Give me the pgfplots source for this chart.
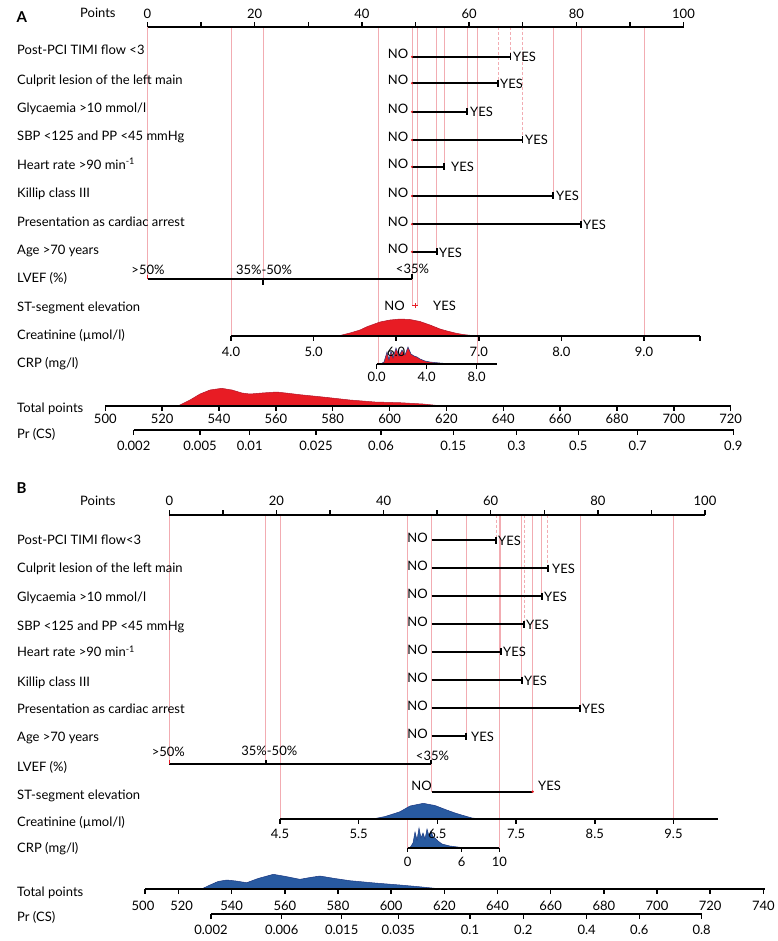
\documentclass[border=0pt]{standalone}
\usepackage{pgfplots}
\pgfplotsset{compat=1.18}
\usepackage{fontspec}
\setmainfont{Lato}
\definecolor{nred}{RGB}{232,28,36}
\definecolor{nredd}{RGB}{180,20,40}
\definecolor{nblue}{RGB}{40,90,160}
\definecolor{nblued}{RGB}{25,55,130}
\definecolor{npink}{RGB}{242,172,178}
\newcommand{\tc}[3]{\node[anchor=base,inner sep=0pt] at (axis cs:#1,#2) {#3};}
\newcommand{\tw}[3]{\node[anchor=base west,inner sep=0pt] at (axis cs:#1,#2) {#3};}
\newcommand{\te}[3]{\node[anchor=base east,inner sep=0pt] at (axis cs:#1,#2) {#3};}
\newcommand{\pv}[3]{\addplot[npink,line width=0.7pt] coordinates {(#1,#2)(#1,#3)};}
\newcommand{\pvd}[3]{\addplot[npink,line width=0.7pt,dash pattern=on 3pt off 2pt] coordinates {(#1,#2)(#1,#3)};}
\newcommand{\hl}[3]{\addplot[black,line width=1.8pt] coordinates {(#1,#3)(#2,#3)};}
\newcommand{\vt}[3]{\addplot[black,line width=1.6pt] coordinates {(#1,#2)(#1,#3)};}
\begin{document}
\fontsize{13}{15}\selectfont
\begin{tikzpicture}
\begin{axis}[x=1pt,y=1pt,y dir=reverse,xmin=0,xmax=777,ymin=0,ymax=941,
  hide axis,clip=false,scale only axis,unbounded coords=jump]
\addplot[draw=none] coordinates {(0,0)(777,941)};
% ================= PANEL A =================
\pv{147.5}{27}{279.3}\pv{231}{27}{336}\pv{263}{27}{279.3}\pv{378}{27}{364.3}
\pv{412}{27}{305.7}\pv{417}{27}{305.7}\pv{436.7}{27}{251.7}\pv{444}{27}{166.7}
\pv{467}{27}{111.7}\pv{477.5}{27}{364.3}\pvd{498}{27}{83.3}\pvd{510.5}{27}{56.7}
\pvd{522.5}{27}{140}\pv{553}{27}{196}\pv{581}{27}{224.3}\pv{644}{27}{336}
% densities A
\addplot[fill=nred,draw=nredd,line width=0.5pt] coordinates {(338,336)(350,333)(360,330)(367,326.7)(380,322)(390,320)(400,319)(410,319.5)(420,321.5)(430,325)(440,329)(447,331)(455,333)(463,334.5)(472,335.5)(485,336)(338,336)};
\addplot[fill=nred,draw=nblued,line width=0.5pt] coordinates {(380,364.3)(384,362)(387,352)(389,360)(391,351)(393,358)(396,348)(399,356)(402,350)(405,355)(408,347)(411,354)(414,356)(417,357)(420,359)(425,361)(430,362)(440,363)(450,363.8)(460,364.3)(380,364.3)};
\addplot[fill=nred,draw=nredd,line width=0.5pt] coordinates {(178,406)(190,400)(200,394)(210,390)(221.7,388.3)(232,390)(242,393)(250,394)(262,393)(276.7,392)(290,393.5)(300,394.7)(320,396.7)(350,400)(375,402)(400,402.7)(423,404)(443,406)(178,406)};
% Points axis A
\hl{147.5}{683.5}{27}
\addplot[black,line width=1.5pt] coordinates {(147.5,27)(147.5,22)(nan,nan)(201.1,27)(201.1,22)(nan,nan)(254.7,27)(254.7,22)(nan,nan)(308.3,27)(308.3,22)(nan,nan)(361.9,27)(361.9,22)(nan,nan)(415.5,27)(415.5,22)(nan,nan)(469.1,27)(469.1,22)(nan,nan)(522.7,27)(522.7,22)(nan,nan)(576.3,27)(576.3,22)(nan,nan)(629.9,27)(629.9,22)(nan,nan)(683.5,27)(683.5,22)};
\tc{147.5}{19}{0}\tc{254.7}{19}{20}\tc{361.9}{19}{40}\tc{469.1}{19}{60}\tc{576.3}{19}{80}\tc{683.5}{19}{100}
\tw{16.5}{22.7}{\fontsize{15}{17}\selectfont\bfseries A}
\tw{80}{17.7}{Points}
% row labels A
\tw{17}{55}{Post-PCI TIMI flow <3}
\tw{17}{84.5}{Culprit lesion of the left main}
\tw{17}{112.7}{Glycaemia >10 mmol/l}
\tw{17}{140.7}{SBP <125 and PP <45 mmHg}
\tw{17}{169.3}{Heart rate >90 min\textsuperscript{-1}}
\tw{17}{197.3}{Killip class III}
\tw{17}{226}{Presentation as cardiac arrest}
\tw{17}{254}{Age >70 years}
\tw{17}{282.7}{LVEF (\%)}
\tw{17}{311}{ST-segment elevation}
\tw{17}{339.3}{Creatinine (µmol/l)}
\tw{17}{367.7}{CRP (mg/l)}
\tw{17}{412.7}{Total points}
\tw{17}{438.3}{Pr (CS)}
% binary rows A
\hl{412}{510.5}{56.7}\vt{510.5}{53.2}{60.2}\te{408.5}{58.5}{NO}\tw{513}{61.5}{YES}
\hl{412}{498}{83.3}\vt{498}{79.8}{86.8}\te{408.5}{85}{NO}\tw{500}{88.5}{YES}
\hl{412}{467}{111.7}\vt{467}{108.2}{115.2}\te{408.5}{113.5}{NO}\tw{470}{117}{YES}
\hl{412}{522.5}{140}\vt{522.5}{136.5}{143.5}\te{408.5}{142}{NO}\tw{525}{145}{YES}
\hl{412}{444}{166.7}\vt{444}{163.2}{170.2}\te{408.5}{168.5}{NO}\tw{451}{172}{YES}
\hl{412}{553}{196}\vt{553}{192.5}{199.5}\te{408.5}{198}{NO}\tw{556}{201}{YES}
\hl{412}{581}{224.3}\vt{581}{220.8}{227.8}\te{408.5}{226}{NO}\tw{583}{229.5}{YES}
\hl{412}{436.7}{251.7}\vt{436.7}{248.2}{255.2}\te{408.5}{253.5}{NO}\tw{439}{257}{YES}
\addplot[only marks,mark=*,mark size=0.9pt,nred] coordinates {(412,56.7)(412,83.3)(412,111.7)(412,140)(412,166.7)(412,196)(412,224.3)(412,251.7)};
% LVEF A
\hl{147.5}{412}{279.3}\vt{263}{279.3}{285}\vt{412}{274}{279.3}
\addplot[nred,line width=1.5pt] coordinates {(147.5,279.3)(147.5,275)};
\tc{148}{274}{>50\%}\tc{264}{274}{35\%-50\%}\tc{412.5}{273.3}{<35\%}
% ST A
\te{405}{310}{NO}\tw{433}{310}{YES}
\addplot[nred,line width=1.5pt] coordinates {(412,305.7)(418,305.7)};
\addplot[nred,line width=1pt] coordinates {(415,303)(415,308)};
% Creatinine A
\hl{231}{700}{336}
\addplot[black,line width=1.5pt] coordinates {(231,336)(231,340.5)(nan,nan)(313.6,336)(313.6,340.5)(nan,nan)(396.2,336)(396.2,340.5)(nan,nan)(478.8,336)(478.8,340.5)(nan,nan)(561.4,336)(561.4,340.5)(nan,nan)(644,336)(644,340.5)(nan,nan)(700,336)(700,340.5)};
\tc{231}{356}{4.0}\tc{313.6}{356}{5.0}\tc{396.2}{356}{6.0}\tc{478.8}{356}{7.0}\tc{561.4}{356}{8.0}\tc{644}{356}{9.0}
% CRP A
\hl{376.7}{496.7}{364.3}
\addplot[black,line width=1.5pt] coordinates {(376.7,364.3)(376.7,369)(nan,nan)(426.7,364.3)(426.7,369)(nan,nan)(476.7,364.3)(476.7,369)};
\tc{376.7}{381}{0.0}\tc{426.7}{381}{4.0}\tc{476.7}{381}{8.0}
% Total points A
\hl{105.3}{730.7}{406}
\addplot[black,line width=1.5pt] coordinates {(105.3,406)(105.3,410.5)(nan,nan)(162.2,406)(162.2,410.5)(nan,nan)(219,406)(219,410.5)(nan,nan)(275.9,406)(275.9,410.5)(nan,nan)(332.7,406)(332.7,410.5)(nan,nan)(389.6,406)(389.6,410.5)(nan,nan)(446.4,406)(446.4,410.5)(nan,nan)(503.3,406)(503.3,410.5)(nan,nan)(560.1,406)(560.1,410.5)(nan,nan)(617,406)(617,410.5)(nan,nan)(673.8,406)(673.8,410.5)(nan,nan)(730.7,406)(730.7,410.5)};
\tc{105.3}{423.3}{500}\tc{162.2}{423.3}{520}\tc{219}{423.3}{540}\tc{275.9}{423.3}{560}\tc{332.7}{423.3}{580}\tc{389.6}{423.3}{600}\tc{446.4}{423.3}{620}\tc{503.3}{423.3}{640}\tc{560.1}{423.3}{660}\tc{617}{423.3}{680}\tc{673.8}{423.3}{700}\tc{730.7}{423.3}{720}
% Pr A
\hl{133.7}{734}{430}
\addplot[black,line width=1.5pt] coordinates {(133.7,430)(133.7,434.5)(nan,nan)(200,430)(200,434.5)(nan,nan)(249.7,430)(249.7,434.5)(nan,nan)(316,430)(316,434.5)(nan,nan)(381,430)(381,434.5)(nan,nan)(453.3,430)(453.3,434.5)(nan,nan)(516.7,430)(516.7,434.5)(nan,nan)(578.3,430)(578.3,434.5)(nan,nan)(637.7,430)(637.7,434.5)(nan,nan)(733.3,430)(733.3,434.5)};
\tc{133.7}{450}{0.002}\tc{200}{450}{0.005}\tc{249.7}{450}{0.01}\tc{316}{450}{0.025}\tc{381}{450}{0.06}\tc{453.3}{450}{0.15}\tc{516.7}{450}{0.3}\tc{578.3}{450}{0.5}\tc{637.7}{450}{0.7}\tc{733.3}{450}{0.9}
% ================= PANEL B =================
\pv{169.3}{514.7}{764.3}\pv{265.7}{514.7}{764.3}\pv{280}{514.7}{819.3}\pv{407.7}{514.7}{847.7}
\pv{431.7}{514.7}{791.7}\pv{466}{514.7}{736}\pvd{496}{514.7}{540}\pv{499.3}{514.7}{847.7}
\pv{500.7}{514.7}{651.7}\pv{521.7}{514.7}{680}\pvd{524}{514.7}{624.3}\pv{532.7}{514.7}{791.7}
\pv{541.7}{514.7}{596}\pvd{547.7}{514.7}{568}\pv{580}{514.7}{708.3}\pv{673.5}{514.7}{819.3}
% densities B
\addplot[fill=nblue,draw=nblued,line width=0.5pt] coordinates {(362,819.3)(375,818.5)(385,816.5)(393,814)(400,811.7)(410,806)(423.3,803.3)(435,805.5)(446.7,810)(455,813)(463.3,815.5)(472,818)(485,819.3)(362,819.3)};
\addplot[fill=nblue,draw=nblued,line width=0.5pt] coordinates {(410,847.7)(413,843)(415,832)(417,840)(419,828)(421,838)(423,833)(425,839)(427,829)(429,836)(431,831)(433,837)(435,838)(438,841)(442,844)(450,846)(460,847.3)(465,847.7)(410,847.7)};
\addplot[fill=nblue,draw=nblued,line width=0.5pt] coordinates {(201,889.3)(210,885)(218,881.5)(226.7,880)(236,881)(246.7,882.7)(258,878.5)(273.3,874.3)(286,876.5)(300,879.3)(310,877.5)(320,876)(335,878.5)(350,880.7)(375,883)(400,885)(420,886.8)(445,889.3)(201,889.3)};
% Points axis B
\hl{169.3}{705}{514.7}
\addplot[black,line width=1.5pt] coordinates {(169.3,514.7)(169.3,509.5)(nan,nan)(222.9,514.7)(222.9,509.5)(nan,nan)(276.4,514.7)(276.4,509.5)(nan,nan)(330,514.7)(330,509.5)(nan,nan)(383.6,514.7)(383.6,509.5)(nan,nan)(437.2,514.7)(437.2,509.5)(nan,nan)(490.7,514.7)(490.7,509.5)(nan,nan)(544.3,514.7)(544.3,509.5)(nan,nan)(597.9,514.7)(597.9,509.5)(nan,nan)(651.4,514.7)(651.4,509.5)(nan,nan)(705,514.7)(705,509.5)};
\tc{169.3}{505}{0}\tc{276.4}{505}{20}\tc{383.6}{505}{40}\tc{490.7}{505}{60}\tc{597.9}{505}{80}\tc{705}{505}{100}
\tw{16.5}{493.3}{\fontsize{15}{17}\selectfont\bfseries B}
\tw{80}{505}{Points}
% row labels B
\tw{17}{544}{Post-PCI TIMI flow<3}
\tw{17}{572.7}{Culprit lesion of the left main}
\tw{17}{601.7}{Glycaemia >10 mmol/l}
\tw{17}{630}{SBP <125 and PP <45 mmHg}
\tw{17}{656.7}{Heart rate >90 min\textsuperscript{-1}}
\tw{17}{686}{Killip class III}
\tw{17}{713.3}{Presentation as cardiac arrest}
\tw{17}{741.7}{Age >70 years}
\tw{17}{771.7}{LVEF (\%)}
\tw{17}{799.3}{ST-segment elevation}
\tw{17}{826}{Creatinine (µmol/l)}
\tw{17}{852.7}{CRP (mg/l)}
\tw{17}{896.7}{Total points}
\tw{17}{921.7}{Pr (CS)}
% binary rows B
\hl{431.7}{496}{540}\vt{496}{536.5}{543.5}\te{428}{542.5}{NO}\tw{498}{545}{YES}
\hl{431.7}{547.7}{568}\vt{547.7}{564.5}{571.5}\te{428}{570.5}{NO}\tw{552}{573}{YES}
\hl{431.7}{541.7}{596}\vt{541.7}{592.5}{599.5}\te{428}{598.5}{NO}\tw{544}{601}{YES}
\hl{431.7}{524}{624.3}\vt{524}{620.8}{627.8}\te{428}{626.8}{NO}\tw{526}{629.3}{YES}
\hl{431.7}{500.7}{651.7}\vt{500.7}{648.2}{655.2}\te{428}{654.2}{NO}\tw{503}{656.7}{YES}
\hl{431.7}{521.7}{680}\vt{521.7}{676.5}{683.5}\te{428}{682.5}{NO}\tw{524}{685}{YES}
\hl{431.7}{580}{708.3}\vt{580}{704.8}{711.8}\te{428}{710.8}{NO}\tw{582}{713.3}{YES}
\hl{431.7}{466}{736}\vt{466}{732.5}{739.5}\te{428}{738.5}{NO}\tw{471}{741}{YES}
% LVEF B
\hl{169.3}{431}{764.3}\vt{265.7}{759.5}{764.3}\vt{431}{759.5}{764.3}
\addplot[nred,line width=1.5pt] coordinates {(169.3,764.3)(169.3,760)};
\tc{168.3}{756.7}{>50\%}\tc{269.3}{755.7}{35\%-50\%}\tc{432.5}{760}{<35\%}
% ST B
\hl{431.7}{532.7}{791.7}
\te{432}{790}{NO}\tw{538}{790}{YES}
\addplot[only marks,mark=*,mark size=1pt,nred] coordinates {(532.7,791.7)};
% Creatinine B
\hl{280}{718.3}{819.3}
\addplot[black,line width=1.5pt] coordinates {(280,819.3)(280,823.5)(nan,nan)(358.7,819.3)(358.7,823.5)(nan,nan)(437.4,819.3)(437.4,823.5)(nan,nan)(516.1,819.3)(516.1,823.5)(nan,nan)(594.8,819.3)(594.8,823.5)(nan,nan)(673.5,819.3)(673.5,823.5)};
\tc{280}{838.3}{4.5}\tc{358.7}{838.3}{5.5}\tc{437.4}{838.3}{6.5}\tc{516.1}{838.3}{7.5}\tc{594.8}{838.3}{8.5}\tc{673.5}{838.3}{9.5}
% CRP B
\hl{407.7}{499.3}{847.7}
\addplot[black,line width=1.5pt] coordinates {(407.7,847.7)(407.7,852)(nan,nan)(461.7,847.7)(461.7,852)(nan,nan)(499.3,847.7)(499.3,852)};
\tc{407.7}{866}{0}\tc{461.7}{866}{6}\tc{499.3}{866}{10}
% Total points B
\hl{145}{765}{889.3}
\addplot[black,line width=1.5pt] coordinates {(145,889.3)(145,893.5)(nan,nan)(178.5,889.3)(178.5,893.5)(nan,nan)(231.7,889.3)(231.7,893.5)(nan,nan)(284.9,889.3)(284.9,893.5)(nan,nan)(338,889.3)(338,893.5)(nan,nan)(391.2,889.3)(391.2,893.5)(nan,nan)(444.4,889.3)(444.4,893.5)(nan,nan)(497.5,889.3)(497.5,893.5)(nan,nan)(550.7,889.3)(550.7,893.5)(nan,nan)(603.9,889.3)(603.9,893.5)(nan,nan)(657,889.3)(657,893.5)(nan,nan)(710.2,889.3)(710.2,893.5)(nan,nan)(763.3,889.3)(763.3,893.5)};
\tc{143}{910}{500}\tc{181.7}{910}{520}\tc{231.7}{910}{540}\tc{284.9}{910}{560}\tc{338}{910}{580}\tc{391.2}{910}{600}\tc{444.4}{910}{620}\tc{497.5}{910}{640}\tc{550.7}{910}{660}\tc{603.9}{910}{680}\tc{657}{910}{700}\tc{710.2}{910}{720}\tc{763.3}{910}{740}
% Pr B
\hl{211}{701.7}{914.3}
\addplot[black,line width=1.5pt] coordinates {(211,914.3)(211,918.5)(nan,nan)(281.7,914.3)(281.7,918.5)(nan,nan)(341.7,914.3)(341.7,918.5)(nan,nan)(398.3,914.3)(398.3,918.5)(nan,nan)(470,914.3)(470,918.5)(nan,nan)(523.3,914.3)(523.3,918.5)(nan,nan)(586.7,914.3)(586.7,918.5)(nan,nan)(639.3,914.3)(639.3,918.5)(nan,nan)(701.7,914.3)(701.7,918.5)};
\tc{211}{934}{0.002}\tc{281.7}{934}{0.006}\tc{341.7}{934}{0.015}\tc{398.3}{934}{0.035}\tc{470}{934}{0.1}\tc{523.3}{934}{0.2}\tc{586.7}{934}{0.4}\tc{639.3}{934}{0.6}\tc{701.7}{934}{0.8}
\end{axis}
\end{tikzpicture}
\end{document}
